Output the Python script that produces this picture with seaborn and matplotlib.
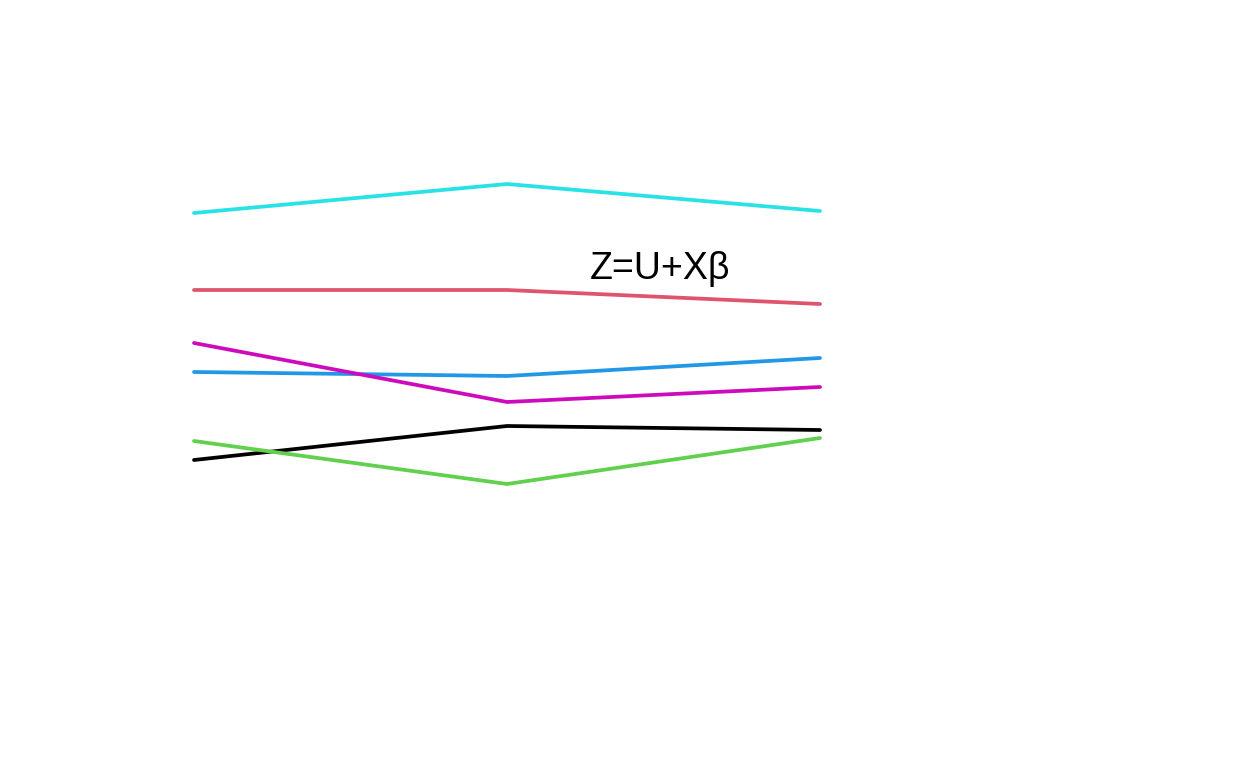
import numpy as np
import pandas as pd
import matplotlib
matplotlib.use("Agg")
import matplotlib.pyplot as plt
import seaborn as sns

# -------------------------
# Data
# -------------------------
x = [1, 2, 3]
black = [3.08, 3.42, 3.38]
red = [4.78, 4.78, 4.64]
green = [3.27, 2.84, 3.30]
blue = [3.96, 3.92, 4.10]
cyan = [5.55, 5.84, 5.57]
magenta = [4.25, 3.66, 3.81]

series_names = ["black", "red", "green", "blue", "cyan", "magenta"]
series_values = [black, red, green, blue, cyan, magenta]
palette = ["#000000", "#DF536B", "#61D04F", "#2297E6", "#28E2E5", "#CD0BBC"]

label_text = "Z=U+X\u03b2"

df = pd.DataFrame(
    [(name, xi, yi) for name, vals in zip(series_names, series_values)
     for xi, yi in zip(x, vals)],
    columns=["series", "x", "y"],
)

# -------------------------
# Plot
# -------------------------
sns.set_style("white")
plt.rcParams["font.family"] = ["Liberation Sans", "DejaVu Sans"]

fig = plt.figure(figsize=(12.48, 7.68), dpi=100)
ax = fig.add_axes([0, 0, 1, 1])

sns.lineplot(data=df, x="x", y="y", hue="series", hue_order=series_names,
             palette=palette, linewidth=2.7, legend=False, ax=ax)

ax.text(2.49, 4.99, label_text, fontsize=27, ha="center", va="center",
        color="black", family=["Liberation Sans", "DejaVu Sans"])

ax.set_xlim(1 - 194 / 313, 1 + (1248 - 194) / 313)
ax.set_ylim(0, 7.68)
ax.set_axis_off()

fig.savefig("out.png", dpi=100)
